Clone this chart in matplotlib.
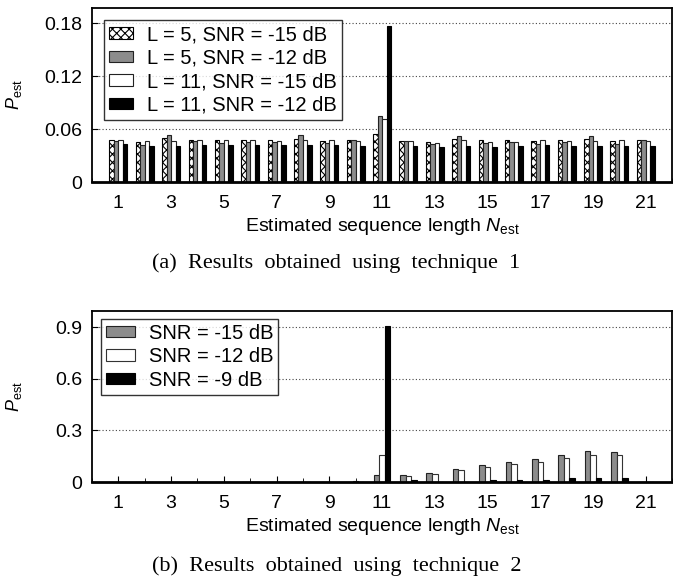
import numpy as np
import matplotlib
matplotlib.use("Agg")
import matplotlib.pyplot as plt
from matplotlib.ticker import MultipleLocator

plt.rcParams['font.family'] = ['Liberation Sans', 'DejaVu Sans']
plt.rcParams['mathtext.fontset'] = 'custom'
plt.rcParams['mathtext.rm'] = 'Liberation Sans'
plt.rcParams['mathtext.it'] = 'Liberation Sans:italic'
plt.rcParams['hatch.linewidth'] = 0.8

# estimated sequence length
n_est = np.arange(1, 22)

# technique 1
t1_labels = ['L = 5, SNR = -15 dB', 'L = 5, SNR = -12 dB',
             'L = 11, SNR = -15 dB', 'L = 11, SNR = -12 dB']
t1_l5_m15 = [0.048, 0.045, 0.050, 0.048, 0.048, 0.048, 0.048, 0.049, 0.046, 0.048, 0.054,
             0.046, 0.045, 0.049, 0.047, 0.048, 0.046, 0.048, 0.049, 0.046, 0.047]
t1_l5_m12 = [0.046, 0.042, 0.053, 0.046, 0.044, 0.045, 0.045, 0.053, 0.044, 0.047, 0.075,
             0.046, 0.043, 0.052, 0.044, 0.045, 0.043, 0.045, 0.052, 0.043, 0.047]
t1_l11_m15 = [0.048, 0.046, 0.046, 0.047, 0.047, 0.047, 0.046, 0.048, 0.048, 0.046, 0.071,
              0.046, 0.044, 0.047, 0.045, 0.045, 0.047, 0.046, 0.046, 0.047, 0.046]
t1_l11_m12 = [0.043, 0.041, 0.041, 0.042, 0.042, 0.042, 0.042, 0.042, 0.042, 0.041, 0.177,
              0.041, 0.040, 0.041, 0.040, 0.041, 0.042, 0.041, 0.041, 0.041, 0.041]

# technique 2
t2_labels = ['SNR = -15 dB', 'SNR = -12 dB', 'SNR = -9 dB']
t2_m15 = [0, 0, 0, 0, 0, 0, 0, 0, 0, 0.001, 0.042,
          0.042, 0.055, 0.078, 0.099, 0.116, 0.136, 0.157, 0.178, 0.174, 0]
t2_m12 = [0, 0, 0, 0, 0, 0, 0, 0, 0, 0.004, 0.157,
          0.033, 0.046, 0.071, 0.086, 0.105, 0.118, 0.141, 0.155, 0.157, 0]
t2_m9 = [0, 0, 0, 0, 0, 0, 0, 0, 0, 0, 0.905,
         0.010, 0.003, 0.003, 0.010, 0.012, 0.010, 0.025, 0.025, 0.025, 0]

FS = 14


def style_axes(ax, yticks, ylim):
    ax.set_xlim(0, 22)
    ax.set_ylim(0, ylim)
    ax.set_xticks(np.arange(1, 22, 2))
    ax.xaxis.set_minor_locator(MultipleLocator(1))
    ax.set_yticks(yticks)
    ax.set_yticklabels(['0' if v == 0 else ('%g' % v) for v in yticks])
    ax.yaxis.grid(True, linestyle=(0, (1, 2)), color='#444444', linewidth=0.8)
    ax.set_axisbelow(True)
    ax.tick_params(axis='both', which='both', direction='in', labelsize=FS,
                   top=False, right=False)
    ax.tick_params(axis='y', length=4, pad=7)
    ax.tick_params(axis='x', which='major', length=4, pad=9)
    ax.tick_params(axis='x', which='minor', length=3)
    for s in ax.spines.values():
        s.set_linewidth(1.3)
    ax.spines['bottom'].set_linewidth(2)
    ax.set_xlabel(r'Estimated sequence length $\mathit{N}_{\mathrm{est}}$', fontsize=FS, labelpad=3)
    ax.set_ylabel(r'$\mathit{P}_{\mathrm{est}}$', fontsize=13)
    ax.yaxis.set_label_coords(-0.117, 0.5)


fig = plt.figure(figsize=(6.73, 5.83), dpi=100)
ax1 = fig.add_axes([0.1367, 0.6878, 0.862, 0.2985])
ax2 = fig.add_axes([0.1367, 0.1732, 0.862, 0.2933])

w1 = 0.17
ax1.bar(n_est - 1.5 * w1, t1_l5_m15, w1, color='white', edgecolor='black', hatch='xxxx',
        linewidth=0.8, label=t1_labels[0])
ax1.bar(n_est - 0.5 * w1, t1_l5_m12, w1, color='#8c8c8c', edgecolor='#222222',
        linewidth=0.8, label=t1_labels[1])
ax1.bar(n_est + 0.5 * w1, t1_l11_m15, w1, color='white', edgecolor='#222222',
        linewidth=0.8, label=t1_labels[2])
ax1.bar(n_est + 1.5 * w1, t1_l11_m12, w1, color='black', edgecolor='black',
        linewidth=0.8, label=t1_labels[3])
style_axes(ax1, [0, 0.06, 0.12, 0.18], 0.197)
leg1 = ax1.legend(loc='upper left', bbox_to_anchor=(0.021, 0.93), fontsize=14.5, frameon=True,
                  fancybox=False, edgecolor='black', borderpad=0.25, labelspacing=0.22,
                  handlelength=1.2, handleheight=0.5, handletextpad=0.7, borderaxespad=0)
leg1.get_frame().set_linewidth(1.0)

w2 = 0.21
ax2.bar(n_est - w2, t2_m15, w2, color='#8c8c8c', edgecolor='#222222', linewidth=0.8,
        label=t2_labels[0])
ax2.bar(n_est, t2_m12, w2, color='white', edgecolor='#333333', linewidth=0.8,
        label=t2_labels[1])
ax2.bar(n_est + w2, t2_m9, w2, color='black', edgecolor='black', linewidth=0.8,
        label=t2_labels[2])
style_axes(ax2, [0, 0.3, 0.6, 0.9], 0.995)
leg2 = ax2.legend(loc='upper left', bbox_to_anchor=(0.016, 0.955), fontsize=14.5, frameon=True,
                  fancybox=False, edgecolor='black', borderpad=0.25, labelspacing=0.22,
                  handlelength=1.4, handleheight=0.5, handletextpad=0.7, borderaxespad=0)
leg2.get_frame().set_linewidth(1.0)

fig.text(0.5, 1 - 263 / 583, '(a)  Results  obtained  using  technique  1', ha='center',
         va='center', family='Liberation Serif', fontsize=16)
fig.text(0.5, 1 - 566 / 583, '(b)  Results  obtained  using  technique  2', ha='center',
         va='center', family='Liberation Serif', fontsize=16)

fig.savefig('out.png', dpi=100)
